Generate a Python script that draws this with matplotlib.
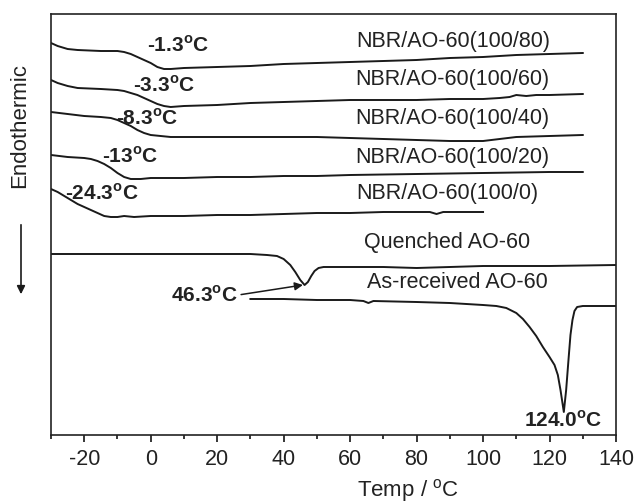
import matplotlib
matplotlib.use('Agg')
import matplotlib.pyplot as plt
from matplotlib.ticker import MultipleLocator

plt.rcParams['font.family'] = ['Liberation Sans', 'DejaVu Sans']
plt.rcParams['mathtext.fontset'] = 'custom'
plt.rcParams['mathtext.rm'] = 'Liberation Sans'
plt.rcParams['mathtext.bf'] = 'Liberation Sans:bold'
plt.rcParams['axes.unicode_minus'] = False

# DSC curves, arbitrary heat flow units (offset for display)
t_80 = [-30, -28, -25, -22, -15, -10, -8, -6, -4, -2, 0, 2, 4, 6, 10, 20, 30, 40, 50, 60, 70, 80, 90, 100, 105, 110, 120, 130]
hf_80 = [392, 389, 386, 385, 384, 384, 383, 381, 378, 375, 372, 368, 366, 366, 367, 368, 369, 371, 372, 373, 374, 375, 377, 378, 379, 380, 381, 382]

t_60 = [-30, -28, -25, -22, -15, -10, -8, -6, -4, -2, 0, 2, 4, 6, 10, 20, 30, 40, 50, 60, 70, 80, 90, 100, 105, 108, 110, 113, 116, 120, 130]
hf_60 = [355, 352, 349, 347, 346, 345, 344, 342, 340, 337, 334, 331, 329, 328, 329, 330, 332, 333, 334, 335, 335, 335, 336, 336, 337, 338, 340, 339, 340, 340, 341]

t_40 = [-30, -25, -20, -15, -12, -10, -8, -6, -4, -2, 0, 3, 6, 20, 40, 50, 60, 70, 80, 90, 100, 105, 110, 120, 130]
hf_40 = [323, 321, 319, 318, 317, 315, 312, 309, 305, 302, 300, 299, 298, 298, 298, 298, 297, 296, 295, 294, 294, 296, 298, 299, 300]

t_20 = [-30, -25, -20, -18, -16, -14, -12, -10, -8, -6, -3, 0, 10, 20, 30, 40, 50, 60, 80, 100, 120, 130]
hf_20 = [280, 278, 277, 276, 274, 271, 267, 262, 258, 256, 256, 257, 257, 258, 258, 259, 259, 260, 261, 262, 263, 263]

t_0 = [-30, -28, -26, -24, -22, -20, -18, -16, -14, -12, -10, -8, -5, 0, 10, 20, 30, 40, 50, 60, 70, 80, 84, 86, 88, 90, 100]
hf_0 = [246, 243, 239, 235, 231, 228, 225, 222, 219, 218, 218, 219, 218, 219, 219, 220, 220, 221, 222, 222, 223, 223, 223, 221, 223, 223, 223]

t_q = [-30, -20, 0, 20, 30, 35, 38, 40, 42, 43.5, 45, 46.3, 47.3, 48.3, 49.3, 50.5, 52, 60, 70, 80, 90, 100, 120, 140]
hf_q = [181, 181, 181, 181, 181, 180, 179, 176, 170, 163, 155, 150, 153, 159, 164, 167, 168, 168, 168, 167, 168, 169, 169, 170]

t_ar = [30, 40, 50, 60, 64, 65.5, 67, 80, 90, 100, 104, 107, 110, 112, 114, 116, 118, 120, 121.5, 122.5, 123.3, 124.3, 125, 125.7, 126.3, 126.9, 127.5, 128.3, 130, 140]
hf_ar = [136, 136, 135, 135, 134, 132, 134, 133, 132, 130, 129, 127, 122, 116, 108, 99, 88, 78, 70, 60, 45, 23, 45, 75, 100, 115, 124, 128, 129, 129]

curve_names = ['NBR/AO-60(100/80)', 'NBR/AO-60(100/60)', 'NBR/AO-60(100/40)',
               'NBR/AO-60(100/20)', 'NBR/AO-60(100/0)', 'Quenched AO-60', 'As-received AO-60']
tg_labels = ['-1.3', '-3.3', '-8.3', '-13', '-24.3']

fig = plt.figure(figsize=(6.36, 5.04), dpi=100)
ax = fig.add_axes([51/636, 69/504, 565/636, 421/504])

lc = '#1a1a1a'
for t, hf in [(t_80, hf_80), (t_60, hf_60), (t_40, hf_40), (t_20, hf_20), (t_0, hf_0), (t_q, hf_q), (t_ar, hf_ar)]:
    ax.plot(t, hf, color=lc, lw=1.4)

# curve names
name_pos = [(91.0, 393), (90.8, 355), (90.7, 316), (90.7, 277), (89.2, 241), (89.2, 192), (92.2, 152)]
for name, (x, y) in zip(curve_names, name_pos):
    ax.text(x, y, name, ha='center', va='center', fontsize=15.5, color='#222222')

# Tg values
tg_pos = [(8.2, 390), (4.0, 350), (-1.1, 317), (-6.2, 279), (-14.7, 242)]
for lab, (x, y) in zip(tg_labels, tg_pos):
    ax.text(x, y, lab + r'$^\mathbf{o}$C', ha='center', va='center', fontsize=15,
            fontweight='bold', color='#222222')

ax.annotate('46.3' + r'$^\mathbf{o}$C', xy=(45.8, 150), xytext=(16.3, 140),
            ha='center', va='center', fontsize=15, fontweight='bold', color='#222222',
            arrowprops=dict(arrowstyle='-|>', color=lc, lw=1.1, mutation_scale=12,
                            shrinkA=0, shrinkB=0, relpos=(1.0, 0.5)))
ax.text(124.1, 15, '124.0' + r'$^\mathbf{o}$C', ha='center', va='center', fontsize=15,
        fontweight='bold', color='#222222')

ax.set_xlim(-30, 140)
ax.set_ylim(0, 421)
ax.xaxis.set_minor_locator(MultipleLocator(10))
ax.set_xticks(range(-20, 141, 20))
ax.tick_params(axis='x', which='major', direction='out', length=5, width=1.1, labelsize=15.5,
               labelcolor='#222222', pad=5)
ax.tick_params(axis='x', which='minor', direction='out', length=3, width=1.1)
ax.set_yticks([])
for s in ax.spines.values():
    s.set_linewidth(1.2)
    s.set_color('#222222')

fig.text(408/636, 1 - 490/504, r'Temp / $^\mathregular{o}$C', ha='center', va='center',
         fontsize=16, color='#222222')
fig.text(20/636, 1 - 125/504, 'Endothermic', rotation=90, ha='center', va='center',
         fontsize=16, color='#222222')
fig.patches.append(matplotlib.patches.FancyArrowPatch(
    (21/636, 1 - 222/504), (21/636, 1 - 297/504), transform=fig.transFigure,
    arrowstyle='-|>', mutation_scale=12, color=lc, lw=1.2))

fig.savefig('out.png', dpi=100)
